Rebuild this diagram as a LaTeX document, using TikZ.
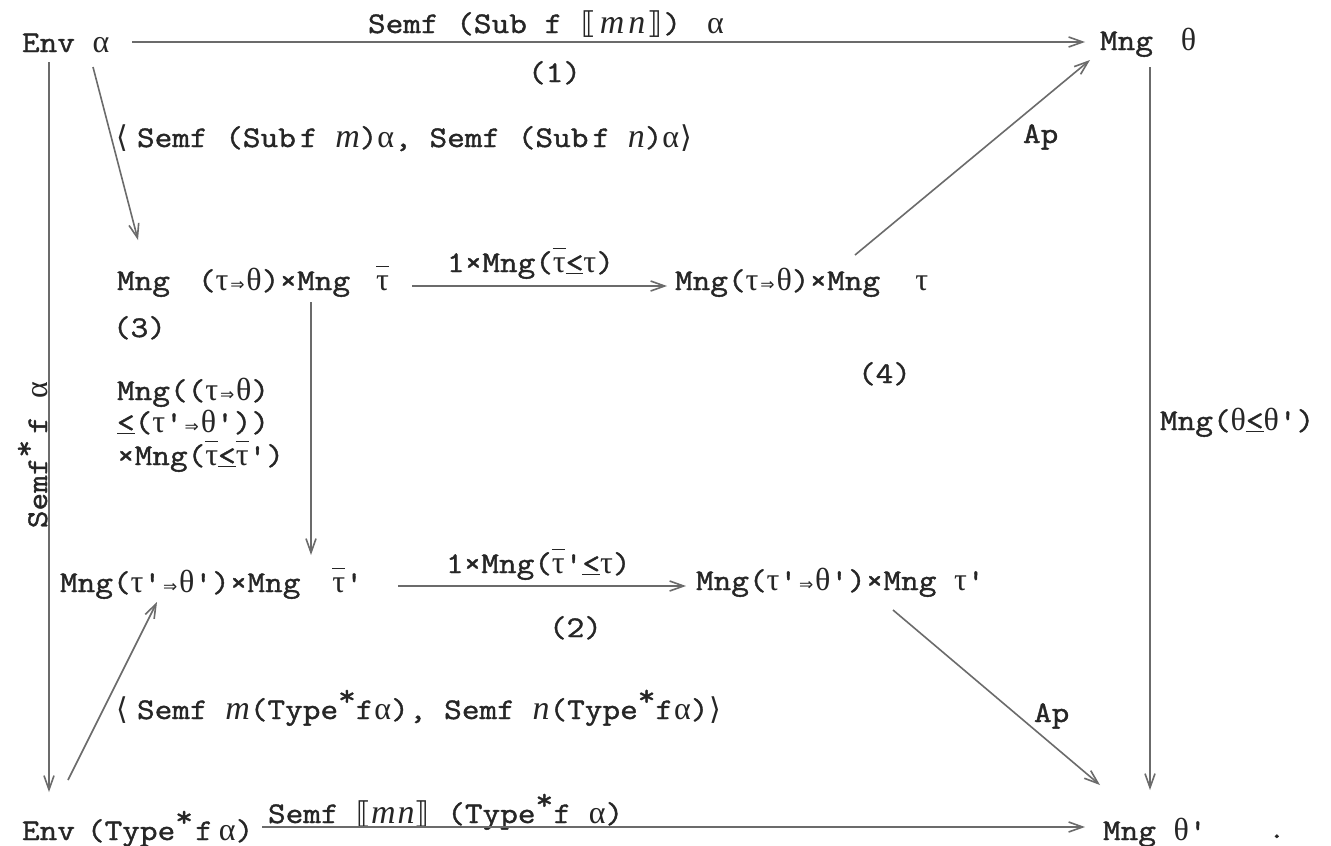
\documentclass[tikz,border=0pt]{standalone}
\usepackage{fontspec}
\setmonofont{Latin Modern Mono}[FakeStretch=1.143, FakeBold=1.3]
\newfontfamily\symf{DejaVu Sans}
\newfontfamily\serf{Liberation Serif}
\usetikzlibrary{arrows.meta,calc}
\newcommand\grk{\serf\fontsize{32}{32}\selectfont}
\newcommand\ga{{\grk α}}
\newcommand\gth{{\grk θ}}
\newcommand\gta{{\grk τ}}
\newcommand\myRA{\makebox[18pt]{\symf\fontsize{17}{17}\selectfont ⇒}}
\newcommand\myLB{\makebox[18pt]{\symf ⟦}}
\newcommand\myRB{\makebox[18pt]{\symf ⟧}}
\newcommand\myLA{\makebox[18pt]{\symf ⟨}}
\newcommand\myRAng{\makebox[14pt]{\symf ⟩}}
\newcommand\mi[1]{{\serf\itshape\fontsize{34}{34}\selectfont #1}}
\newcommand\st{\raisebox{.45em}{*}}
\newcommand\zst{\rlap{\raisebox{.45em}{*}}}
\newcommand\ob[1]{\leavevmode\vbox{\hrule height 1.4pt\kern 8pt\hbox{#1}}}
\newcommand\ule{\underline{<}}
\begin{document}
\begin{tikzpicture}[x=1pt,y=-1pt,
  every node/.style={inner sep=0pt, outer sep=0pt, text=black!85, font=\ttfamily\fontsize{30}{32}\selectfont},
  obj/.style={anchor=base west},
  lab/.style={anchor=base west},
  arr/.style={draw=black!58, line width=1.6pt, -{Straight Barb[length=14pt,width=10pt]}}]
\useasboundingbox[fill=white] (0,0) rectangle (1331,846);

% objects
\node[obj] (envA) at (22,52) {Env~\ga};
\node[obj] (mngT) at (1100,50) {Mng\hspace{28pt}\gth};
\node[obj] (m1) at (117,290) {Mng\hspace{28pt}(\gta\myRA\gth)×Mng\hspace{26pt}\ob{\gta}};
\node[obj] (m2) at (675,290) {Mng(\gta\myRA\gth)×Mng~~\gta};
\node[obj] (m3) at (60,592) {Mng(\gta'\myRA\gth')×Mng\hspace{32pt}\ob{\gta}'};
\node[obj] (m4) at (696,590) {Mng(\gta'\myRA\gth')×Mng~\gta'};
\node[obj] (envB) at (22,840) {Env\hspace{12pt}(Type\zst\hspace{20pt}f\hspace{6pt}\ga)};
\node[obj] (mngT2) at (1103,840) {Mng~\gth'};
\node[obj] (dot) at (1268,838) {.};

% labels
\node[lab] (l1) at (368,33) {Semf~(Sub~f~\myLB\hspace{2pt}\mi{m\hspace{4pt}n}\myRB)\hspace{26pt}\ga};
\node[lab] (n1) at (528,82) {(1)};
\node[lab] (l2) at (113,147) {\myLA\hspace{6pt}Semf~(Sub\hspace{4pt}f~\mi{m})\ga,~Semf~(Sub\hspace{4pt}f~\mi{n})\ga\myRAng};
\node[lab] (l3) at (447,272) {1×Mng(\ob{\gta}\ule\gta)};
\node[lab] (n3) at (113,337) {(3)};
\node[lab] (l4a) at (117,400) {Mng((\gta\myRA\gth)};
\node[lab] (l4b) at (117,432) {\ule(\gta'\myRA\gth'))};
\node[lab] (l4c) at (117,465) {×Mng(\ob{\gta}\ule\ob{\gta}')};
\node[lab] (n4) at (858,383) {(4)};
\node[lab] (ap1) at (1023,143) {Ap};
\node[lab] (l5) at (1160,430) {Mng(\gth\ule\gth')};
\node[rotate=90, anchor=base] (l6) at (47,455) {Semf\st\hspace{6pt}f~\ga};
\node[lab] (l7) at (446,573) {1×Mng(\ob{\gta}'\ule\gta)};
\node[lab] (n2) at (549,637) {(2)};
\node[lab] (ap2) at (1034,722) {Ap};
\node[lab] (l8) at (113,719) {\myLA\hspace{6pt}Semf~\mi{m}(Type\st f\hspace{1pt}\ga),~Semf~\mi{n}(Type\st f\hspace{1pt}\ga)\myRAng};
\node[lab] (l9) at (268,823) {Semf~{\symf ⟦}\mi{m\hspace{2pt}n}{\symf ⟧}~(Type\zst\hspace{18pt}f~\ga)};

% connectors
\draw[arr] ($(envA.base west)+(110,-10)$) -- ($(mngT.base west)+(-15,-8)$);
\draw[arr] ($(envA.base west)+(27,10)$) -- ($(envB.base west)+(27,-48)$);
\draw[arr] ($(envA.base west)+(71,15)$) -- ($(m1.base west)+(21,-50)$);
\draw[arr] ($(m2.base west)+(180,-35)$) -- ($(mngT.base west)+(-10,10)$);
\draw[arr] ($(mngT.base west)+(50,17)$) -- ($(mngT2.base west)+(47,-50)$);
\draw[arr] ($(m1.base west)+(295,-4)$) -- ($(m2.base west)+(-8,-4)$);
\draw[arr] ($(m1.base west)+(194,12)$) -- ($(m3.base west)+(251,-37)$);
\draw[arr] ($(m3.base west)+(338,-6)$) -- ($(m4.base west)+(-10,-4)$);
\draw[arr] ($(m4.base west)+(197,20)$) -- ($(mngT2.base west)+(-3,-55)$);
\draw[arr] ($(envB.base west)+(46,-60)$) -- ($(m3.base west)+(97,10)$);
\draw[arr] ($(envB.base west)+(240,-13)$) -- ($(mngT2.base west)+(-18,-13)$);
\end{tikzpicture}
\end{document}
